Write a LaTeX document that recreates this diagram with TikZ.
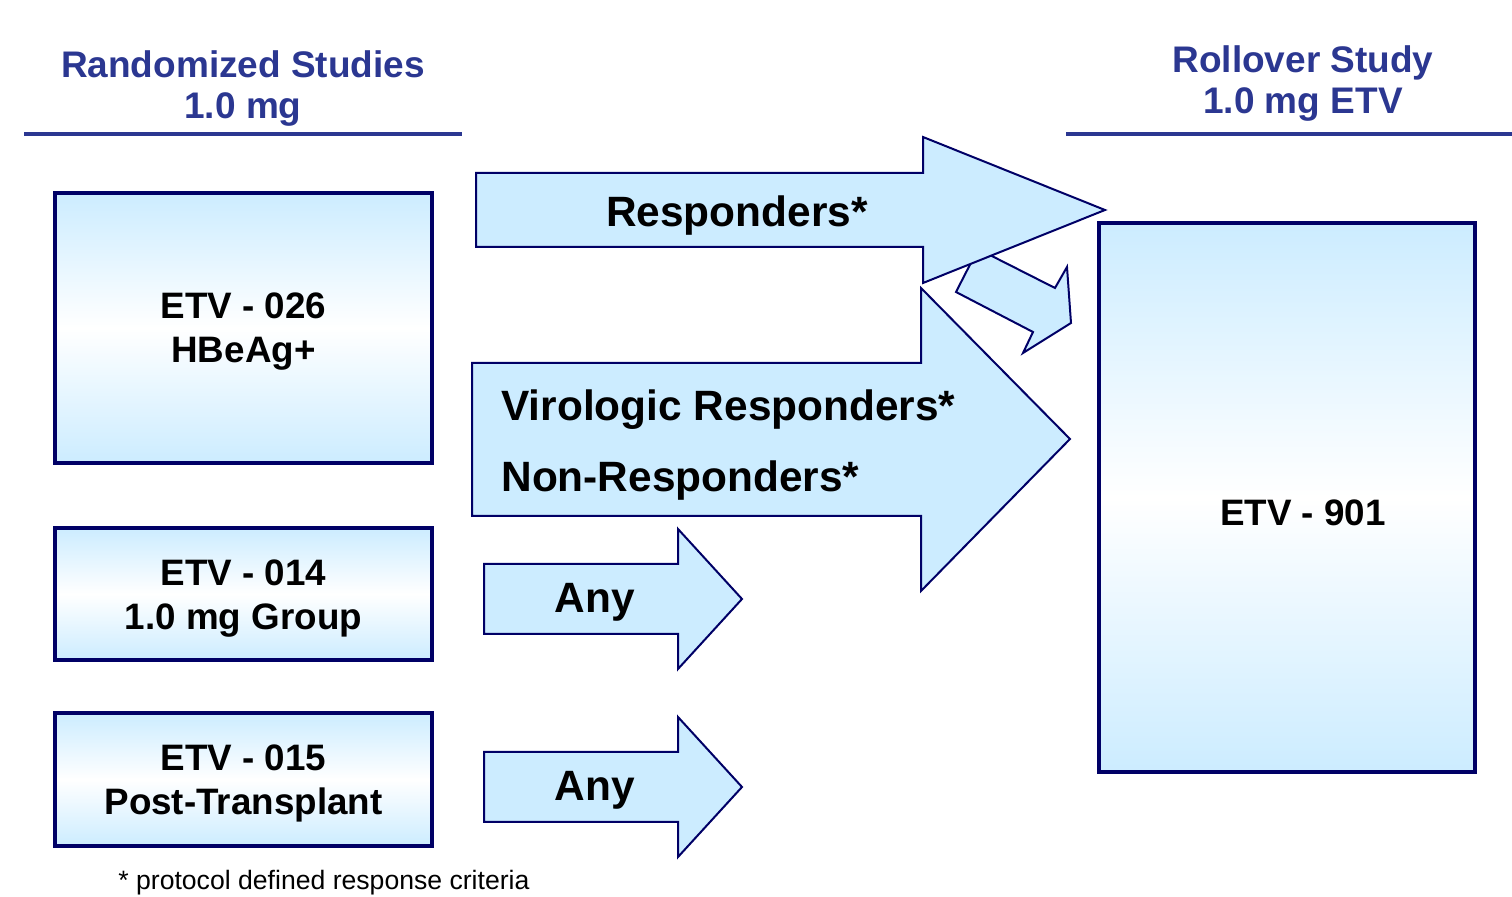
\documentclass[tikz,border=0pt]{standalone}
\usepackage{fontspec}
\setmainfont{Liberation Sans}
\usetikzlibrary{positioning}
\definecolor{headblue}{RGB}{43,55,145}
\definecolor{boxnavy}{RGB}{0,0,102}
\definecolor{arrowfill}{RGB}{204,236,255}

\begin{document}
\begin{tikzpicture}[x=0.5pt, y=-0.5pt,
  every node/.style={font=\bfseries\fontsize{18.4}{22}\selectfont, align=center},
  studybox/.style={draw=boxnavy, line width=1.7pt, top color=arrowfill, bottom color=arrowfill, middle color=white, inner sep=0pt, minimum width=188.5pt},
  blockarrow/.style={draw=boxnavy, line width=1pt, fill=arrowfill, line join=miter},
  heading/.style={text=headblue, font=\bfseries\fontsize{18.5}{20.5}\selectfont},
  headline/.style={draw=headblue, line width=1.7pt},
  arrowtext/.style={font=\bfseries\fontsize{21.2}{24}\selectfont}]
\useasboundingbox (0,0) rectangle (1512,897);

% Überschriften
\node[heading] (randhead) at (243,89) {Randomized Studies\\1.0 mg};
\node[heading] (rollhead) at (1303,84) {Rollover Study\\1.0 mg ETV};
\draw[headline] (24,134) -- (462,134);
\draw[headline] (1066,134) -- (1512,134);

% Studien
\node[studybox, minimum height=135pt] (etv026) at (243.5,328) {};
\node[studybox, minimum height=66pt] (etv014) at (243.5,594) {};
\node[studybox, minimum height=66.5pt] (etv015) at (243.5,779.5) {};
\node[studybox, minimum width=188pt, minimum height=274.5pt] (etv901) at (1287,497.5) {};
\node (etv026text) at ([yshift=-2pt]etv026.center) {ETV - 026\\HBeAg+};
\node (etv014text) at ([yshift=-2.2pt]etv014.center) {ETV - 014\\1.0 mg Group};
\node (etv015text) at ([yshift=-2pt]etv015.center) {ETV - 015\\Post-Transplant};
\node[anchor=base] (etv901text) at (1303,526) {ETV - 901};

% Blockpfeile
\draw[blockarrow] (978,249) -- (1055,288) -- (1067,267) -- (1071,323) -- (1023,353) -- (1033,332) -- (956,292) -- cycle;
\draw[blockarrow] (476,173) -- (923,173) -- (923,137) -- (1105,210) -- (923,283) -- (923,247) -- (476,247) -- cycle;
\draw[blockarrow] (472,363) -- (921,363) -- (921,288) -- (1070,439) -- (921,591) -- (921,516) -- (472,516) -- cycle;
\draw[blockarrow] (484,564) -- (678,564) -- (678,529) -- (742,599) -- (678,669) -- (678,634) -- (484,634) -- cycle;
\draw[blockarrow] (484,752) -- (678,752) -- (678,717) -- (742,787) -- (678,857) -- (678,822) -- (484,822) -- cycle;

% Pfeilbeschriftungen
\node[arrowtext, anchor=base] (resp) at (737,227) {Responders*};
\node[arrowtext, anchor=base west, inner xsep=0pt] (viro) at (501,421) {Virologic Responders*};
\node[arrowtext, anchor=base west, inner xsep=0pt] (nonresp) at (501,492) {Non-Responders*};
\node[arrowtext, anchor=base] (any1) at (595,613) {Any};
\node[arrowtext, anchor=base] (any2) at (595,801) {Any};

% Fußnote
\node[font=\fontsize{13.3}{16}\selectfont, anchor=base west, inner xsep=0pt, inner ysep=0pt] (foot) at (118,890) {* protocol defined response criteria};
\end{tikzpicture}
\end{document}
